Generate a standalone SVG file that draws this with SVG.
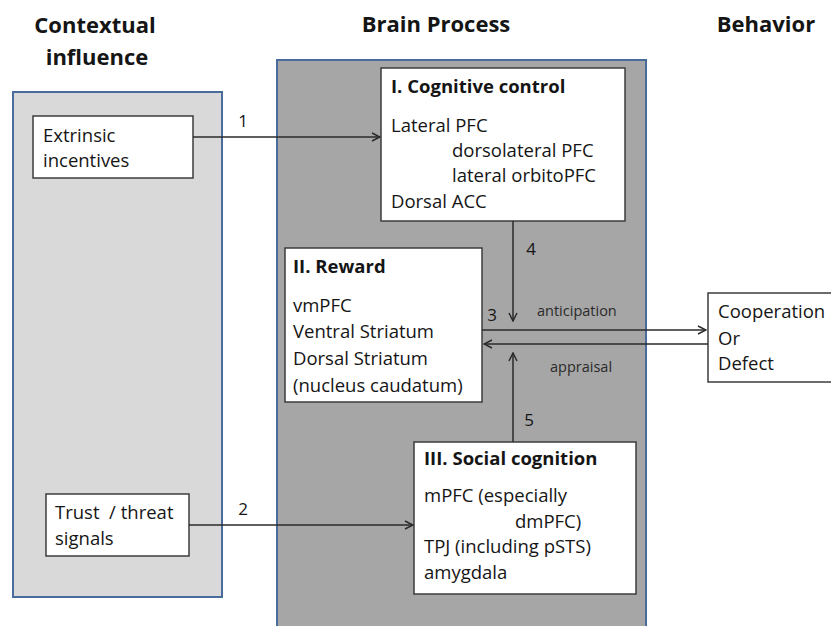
<svg xmlns="http://www.w3.org/2000/svg" width="831" height="626" viewBox="0 0 831 626">
<defs>
<style>
text{font-family:"Open Sans","Liberation Sans",sans-serif;fill:#151515;}
.h{font-size:22px;font-weight:bold;text-anchor:middle;}
.t{font-size:18.5px;}
.b{font-size:18.5px;font-weight:bold;}
.s{font-size:14.5px;fill:#2a2a2a;}
.n{font-size:17px;}
.panel{stroke:#4a6c9c;stroke-width:2;}
.box{fill:#fff;stroke:#3c3c3c;stroke-width:1.5;}
.c{stroke:#2a2a2a;stroke-width:1.5;fill:none;marker-end:url(#ah);}
</style>
<marker id="ah" viewBox="0 0 10 10" refX="9" refY="5" markerWidth="10" markerHeight="10" markerUnits="userSpaceOnUse" orient="auto">
<path d="M1,1 L9,5 L1,9" fill="none" stroke="#2a2a2a" stroke-width="1.5"/>
</marker>
</defs>
<rect width="831" height="626" fill="#fff"/>
<g id="headers">
<text class="h" x="95" y="33">Contextual</text>
<text class="h" x="97" y="65">influence</text>
<text class="h" x="436" y="32">Brain Process</text>
<text class="h" x="766" y="32">Behavior</text>
</g>
<g id="contextual-panel"><rect class="panel" x="13" y="92" width="209" height="505" fill="#d9d9d9"/></g>
<g id="brain-panel"><rect class="panel" x="277" y="60" width="369" height="580" fill="#a6a6a6"/></g>
<g id="extrinsic">
<rect class="box" x="33" y="116" width="160" height="62"/>
<text class="t" x="43" y="142">Extrinsic</text>
<text class="t" x="43" y="167">incentives</text>
</g>
<g id="trust">
<rect class="box" x="46" y="494" width="143" height="62"/>
<text class="t" x="55" y="519" xml:space="preserve">Trust  / threat</text>
<text class="t" x="55" y="545">signals</text>
</g>
<g id="cognitive">
<rect class="box" x="381" y="68" width="244" height="153"/>
<text class="b" x="391" y="93">I. Cognitive control</text>
<text class="t" x="391" y="132">Lateral PFC</text>
<text class="t" x="452" y="157">dorsolateral PFC</text>
<text class="t" x="452" y="182">lateral orbitoPFC</text>
<text class="t" x="391" y="208">Dorsal ACC</text>
</g>
<g id="reward">
<rect class="box" x="285" y="248" width="197" height="154"/>
<text class="b" x="293" y="273">II. Reward</text>
<text class="t" x="293" y="312">vmPFC</text>
<text class="t" x="293" y="338">Ventral Striatum</text>
<text class="t" x="293" y="365">Dorsal Striatum</text>
<text class="t" x="293" y="392">(nucleus caudatum)</text>
</g>
<g id="social">
<rect class="box" x="414" y="442" width="222" height="152"/>
<text class="b" x="424" y="465">III. Social cognition</text>
<text class="t" x="424" y="502">mPFC (especially</text>
<text class="t" x="515" y="528">dmPFC)</text>
<text class="t" x="424" y="553">TPJ (including pSTS)</text>
<text class="t" x="424" y="579">amygdala</text>
</g>
<g id="behavior">
<rect class="box" x="708" y="293" width="130" height="89"/>
<text class="t" x="718" y="318">Cooperation</text>
<text class="t" x="718" y="345">Or</text>
<text class="t" x="718" y="370">Defect</text>
</g>
<g id="connectors">
<line class="c" x1="193" y1="137" x2="380" y2="137"/>
<line class="c" x1="189" y1="525" x2="413" y2="525"/>
<line class="c" x1="513" y1="221" x2="513" y2="321"/>
<line class="c" x1="513" y1="442" x2="513" y2="353"/>
<line class="c" x1="482" y1="330" x2="706" y2="330"/>
<line class="c" x1="708" y1="344" x2="484" y2="344"/>
<text class="n" x="243" y="127" text-anchor="middle">1</text>
<text class="n" x="243" y="515" text-anchor="middle">2</text>
<text class="n" x="492" y="321" text-anchor="middle">3</text>
<text class="n" x="531" y="255" text-anchor="middle">4</text>
<text class="n" x="529" y="426" text-anchor="middle">5</text>
<text class="s" x="537" y="316">anticipation</text>
<text class="s" x="550" y="372">appraisal</text>
</g>
</svg>
